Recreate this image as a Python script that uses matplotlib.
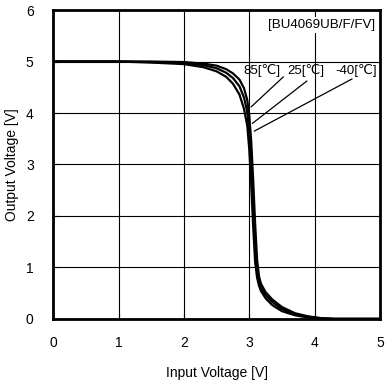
import matplotlib
matplotlib.use("Agg")
import matplotlib.pyplot as plt

plt.rcParams['font.family'] = ['Liberation Sans', 'DejaVu Sans']

# Input voltage samples [V]
vin = [0.0, 1.0, 1.5, 2.0, 2.3, 2.5, 2.65, 2.75, 2.85, 2.92, 2.97, 3.0,
       3.03, 3.06, 3.09, 3.12, 3.15, 3.18, 3.25, 3.35, 3.5, 3.7, 3.9, 4.1, 4.3, 5.0]

# Output voltage per temperature [V]
vout_85 = [5.0, 5.0, 4.98, 4.95, 4.89, 4.81, 4.7, 4.57, 4.36, 4.08, 3.75, 3.3,
           2.6, 1.8, 1.1, 0.8, 0.64, 0.54, 0.4, 0.27, 0.15, 0.07, 0.025, 0.005, 0.0, 0.0]
vout_25 = [5.0, 5.0, 4.99, 4.97, 4.93, 4.87, 4.78, 4.68, 4.52, 4.3, 4.02, 3.65,
           3.05, 2.25, 1.45, 0.95, 0.72, 0.61, 0.46, 0.33, 0.19, 0.09, 0.04, 0.01, 0.0, 0.0]
vout_m40 = [5.0, 5.0, 5.0, 4.99, 4.96, 4.92, 4.85, 4.77, 4.65, 4.48, 4.25, 3.95,
            3.45, 2.7, 1.85, 1.15, 0.82, 0.68, 0.52, 0.38, 0.23, 0.11, 0.05, 0.015, 0.0, 0.0]

xticks = [0, 1, 2, 3, 4, 5]
yticks = [0, 1, 2, 3, 4, 5, 6]

fig = plt.figure(figsize=(3.85, 3.87), dpi=100)
ax = fig.add_axes([0.138, 0.176, 0.849, 0.798])

for vout in (vout_85, vout_25, vout_m40):
    ax.plot(vin, vout, color='black', linewidth=1.6, solid_joinstyle='round', zorder=3)

ax.set_xlim(0, 5)
ax.set_ylim(0, 6)
ax.set_xticks(xticks)
ax.set_yticks(yticks)
ax.grid(True, color='black', linewidth=0.8)
ax.tick_params(direction='in', length=4, width=0.8, labelsize=10)
ax.tick_params(axis='x', pad=12)
ax.tick_params(axis='y', pad=14)
for s in ax.spines.values():
    s.set_linewidth(2.0)

ax.set_xlabel('Input Voltage [V]', fontsize=10, labelpad=12)
ax.set_ylabel('Output Voltage [V]', fontsize=10, labelpad=5)

ax.text(4.93, 5.71, '[BU4069UB/F/FV]', ha='right', va='center', fontsize=9.6,
        bbox=dict(facecolor='white', edgecolor='none', pad=1.5), zorder=4)

# temperature labels with leader lines
labels = ['85[\u2103]', '25[\u2103]', '-40[\u2103]']
label_xy = [(3.2, 4.82), (3.87, 4.82), (4.64, 4.82)]
line_start = [(3.52, 4.7), (3.88, 4.62), (4.57, 4.66)]
line_end = [(3.03, 4.12), (3.05, 3.8), (3.08, 3.65)]
for lab, (tx, ty), (x0, y0), (x1, y1) in zip(labels, label_xy, line_start, line_end):
    ax.text(tx, ty, lab, ha='center', va='center', fontsize=9.5, zorder=4)
    ax.plot([x0, x1], [y0, y1], color='black', linewidth=0.9, zorder=4)

fig.savefig('out.png', dpi=100)
